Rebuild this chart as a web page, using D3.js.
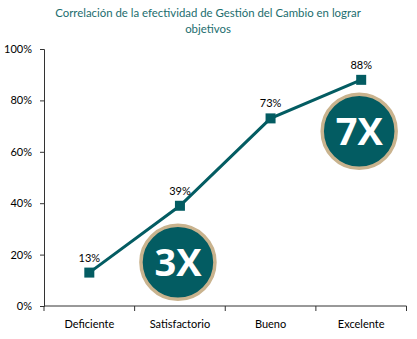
<!DOCTYPE html>
<html><head><meta charset="utf-8">
<script src="https://cdn.jsdelivr.net/npm/d3@7"></script>
<style>body{margin:0;background:#fff;}svg{display:block;font-family:Lato, "Open Sans", sans-serif;}</style>
</head><body>
<script>
const categories = ["Deficiente","Satisfactorio","Bueno","Excelente"];
const values = [0.13,0.39,0.73,0.88];
const valueLabels = ["13%","39%","73%","88%"];
const yTicks = [0,0.2,0.4,0.6,0.8,1.0];
const badges = [{text:"3X", cat:"Satisfactorio", v:0.17},{text:"7X", cat:"Excelente", v:0.68}];
const titleLines = ["Correlación de la efectividad de Gestión del Cambio en lograr","objetivos"];

const W=417,H=339;
const svg=d3.select("body").append("svg").attr("width",W).attr("height",H);
const x=d3.scaleBand().domain(categories).range([44,406.5]);
const y=d3.scaleLinear().domain([0,1]).range([306,49]);
const teal="#035c62";

svg.selectAll("text.title").data(titleLines).join("text").attr("class","title")
 .attr("x",208).attr("y",(d,i)=>17+i*15.5).attr("text-anchor","middle")
 .attr("font-size",11.4).attr("fill","#1b6d6e").text(d=>d);

const ya=svg.append("g").attr("transform","translate(44,0)")
 .call(d3.axisLeft(y).tickValues(yTicks).tickFormat(d3.format(".0%")).tickSize(4).tickPadding(8));
ya.selectAll("text").attr("font-size",11).attr("fill","#000").attr("font-family","Lato, 'Open Sans', sans-serif");
ya.selectAll("line,path").attr("stroke","#333");

const xa=svg.append("g").attr("transform","translate(0,306)")
 .call(d3.axisBottom(x).tickSize(0).tickPadding(14));
xa.selectAll("text").attr("font-size",11).attr("fill","#000").attr("font-family","Lato, 'Open Sans', sans-serif");
xa.select("path").attr("stroke","#333").attr("d","M44,0H406.5");
const bounds=[...categories.map(c=>x(c)), x.range()[1]];
xa.selectAll("line.bt").data(bounds).join("line").attr("class","bt")
 .attr("x1",d=>d).attr("x2",d=>d).attr("y1",0).attr("y2",5).attr("stroke","#333");

const pts=categories.map((c,i)=>[x(c)+x.bandwidth()/2,y(values[i])]);
svg.append("path").attr("d",d3.line()(pts)).attr("fill","none").attr("stroke",teal).attr("stroke-width",3);
svg.selectAll("rect.m").data(pts).join("rect").attr("class","m")
 .attr("x",d=>d[0]-5).attr("y",d=>d[1]-5).attr("width",10).attr("height",10).attr("fill",teal);
svg.selectAll("text.vl").data(pts).join("text").attr("class","vl")
 .attr("x",d=>d[0]).attr("y",d=>d[1]-11).attr("text-anchor","middle")
 .attr("font-size",11).attr("fill","#000").text((d,i)=>valueLabels[i]);

const bg=svg.selectAll("g.badge").data(badges).join("g").attr("class","badge")
 .attr("transform",d=>`translate(${x(d.cat)+x.bandwidth()/2-2},${y(d.v)})`);
bg.append("circle").attr("r",37).attr("fill",teal).attr("stroke","#c9b38e").attr("stroke-width",3.5);
bg.append("text").attr("text-anchor","middle").attr("dy","0.36em").attr("font-size",38)
 .attr("font-weight","bold").attr("fill","#fff").attr("font-family","'Open Sans', Lato, sans-serif").text(d=>d.text);
</script>
</body></html>
